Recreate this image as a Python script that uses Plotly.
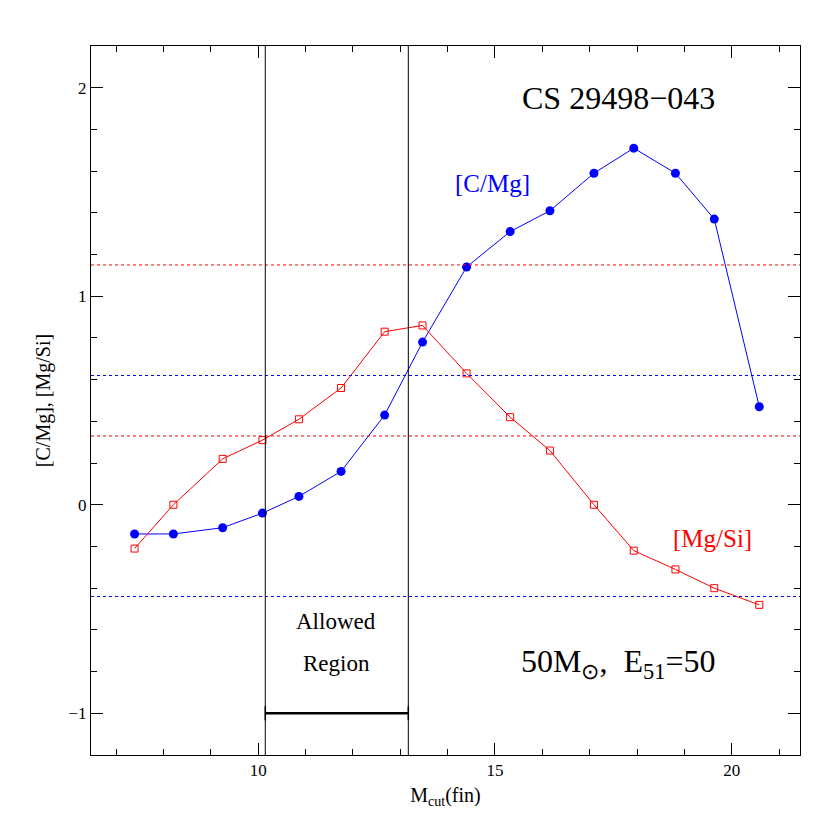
import plotly.graph_objects as go

# mass cut values
mcut = [7.39, 8.21, 9.25, 10.09, 10.86, 11.75, 12.67, 13.47, 14.40,
        15.32, 16.16, 17.09, 17.93, 18.81, 19.63, 20.58]
c_mg = [-0.14, -0.14, -0.11, -0.04, 0.04, 0.16, 0.43, 0.78, 1.14,
        1.31, 1.41, 1.59, 1.71, 1.59, 1.37, 0.47]
mg_si = [-0.21, 0.0, 0.22, 0.31, 0.41, 0.56, 0.83, 0.86, 0.63,
         0.42, 0.26, 0.0, -0.22, -0.31, -0.40, -0.48]

obs_mgsi = [1.15, 0.33]
obs_cmg = [0.62, -0.44]
allowed = [10.15, 13.17]

FONT = "Liberation Serif"

fig = go.Figure()
fig.add_trace(go.Scatter(x=mcut, y=c_mg, mode="lines+markers",
                         line=dict(color="blue", width=1),
                         marker=dict(color="blue", size=9)))
fig.add_trace(go.Scatter(x=mcut, y=mg_si, mode="lines+markers",
                         line=dict(color="red", width=1),
                         marker=dict(color="red", size=7, symbol="square-open",
                                     line=dict(color="red", width=1))))
fig.add_trace(go.Scatter(x=allowed, y=[-1, -1], mode="lines+markers",
                         line=dict(color="black", width=2.5),
                         marker=dict(color="black", symbol="line-ns", size=10,
                                     line=dict(color="black", width=1.5))))

for v in obs_mgsi:
    fig.add_hline(y=v, line=dict(color="red", dash="dot", width=1))
for v in obs_cmg:
    fig.add_hline(y=v, line=dict(color="blue", dash="dot", width=1))
for v in allowed:
    fig.add_vline(x=v, line=dict(color="black", width=1))

ann = [
    dict(x=17.6, y=1.95, text="CS 29498−043", size=32, color="black"),
    dict(x=14.95, y=1.54, text="[C/Mg]", size=25, color="blue"),
    dict(x=19.6, y=-0.16, text="[Mg/Si]", size=25, color="red"),
    dict(x=11.65, y=-0.56, text="Allowed", size=23, color="black"),
    dict(x=11.65, y=-0.76, text="Region", size=23, color="black"),
    dict(x=17.6, y=-0.76, text="50M<sub>⊙</sub>,  E<sub>51</sub>=50", size=32, color="black"),
]
fig.update_layout(
    width=830, height=830, showlegend=False,
    plot_bgcolor="white", paper_bgcolor="white",
    font=dict(family=FONT, size=17, color="black"),
    margin=dict(l=83, r=38, t=38, b=83),
    annotations=[dict(x=a["x"], y=a["y"], text=a["text"], showarrow=False,
                      xref="x", yref="y",
                      font=dict(family=FONT, size=a["size"], color=a["color"]))
                 for a in ann],
)
axis_common = dict(showgrid=False, zeroline=False, showline=True, linecolor="black",
                   mirror="allticks", ticks="inside", ticklen=12, tickcolor="black")
fig.update_xaxes(range=[6.47, 21.44], dtick=5, tick0=0,
                 minor=dict(dtick=1, ticks="inside", ticklen=6, tickcolor="black"),
                 title=dict(text="M<sub>cut</sub>(fin)", standoff=8), **axis_common)
fig.update_yaxes(range=[-1.2, 2.2], dtick=1, tick0=0,
                 minor=dict(dtick=0.2, ticks="inside", ticklen=6, tickcolor="black"),
                 title=dict(text="[C/Mg], [Mg/Si]", standoff=12), **axis_common)

fig.write_html("out.html")
